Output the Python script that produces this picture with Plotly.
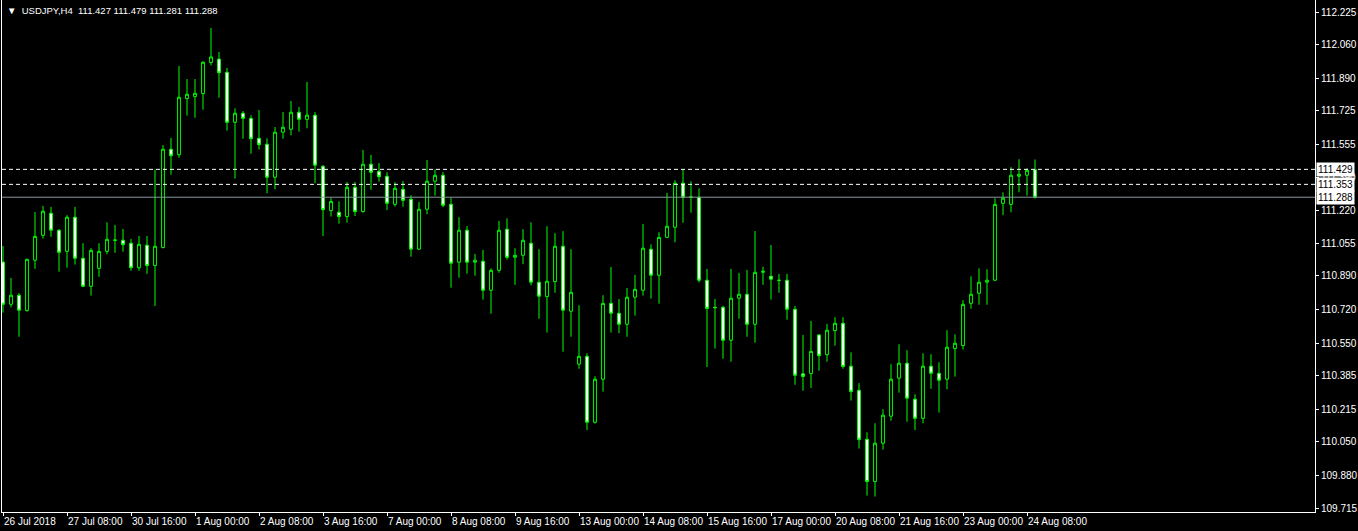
import plotly.graph_objects as go

# ---------------- data (USDJPY, H4) ----------------
opens = [110.960, 110.746, 110.792, 110.714, 110.969, 111.095, 111.207, 111.121, 111.014, 111.187,
         110.979, 110.837, 110.928, 111.014, 111.072, 111.070, 111.055, 110.931, 111.045, 110.942,
         111.033, 111.531, 111.503, 111.787, 111.797, 111.812, 111.969, 111.987, 111.920, 111.667,
         111.713, 111.687, 111.586, 111.556, 111.389, 111.617, 111.632, 111.718, 111.682, 111.703,
         111.445, 111.220, 111.212, 111.190, 111.338, 111.215, 111.455, 111.419, 111.394, 111.252,
         111.328, 111.278, 111.025, 111.227, 111.369, 111.399, 111.252, 110.959, 111.121, 110.959,
         110.964, 110.817, 110.918, 111.126, 110.984, 110.994, 111.055, 110.858, 110.785, 110.861,
         111.040, 110.711, 110.443, 110.483, 110.149, 110.367, 110.751, 110.701, 110.645, 110.782,
         110.817, 111.025, 110.893, 111.085, 111.136, 111.359, 111.288, 111.288, 110.868, 110.731,
         110.731, 110.564, 110.777, 110.797, 110.645, 110.908, 110.888, 110.868, 110.868, 110.721,
         110.394, 110.395, 110.591, 110.491, 110.613, 110.650, 110.433, 110.311, 110.063, 109.849,
         110.043, 110.180, 110.372, 110.448, 110.266, 110.169, 110.433, 110.397, 110.367, 110.522,
         110.537, 110.751, 110.802, 110.858, 110.868, 111.257, 111.252, 111.394, 111.399, 111.427]
highs = [111.041, 110.879, 110.803, 110.976, 111.213, 111.244, 111.239, 111.126, 111.197, 111.239,
         111.055, 111.030, 111.055, 111.161, 111.148, 111.127, 111.077, 111.092, 111.092, 111.429,
         111.552, 111.588, 111.952, 111.886, 111.886, 111.976, 112.144, 112.023, 111.942, 111.738,
         111.724, 111.703, 111.729, 111.586, 111.643, 111.719, 111.775, 111.745, 111.871, 111.719,
         111.450, 111.286, 111.267, 111.365, 111.365, 111.527, 111.502, 111.461, 111.414, 111.364,
         111.370, 111.298, 111.264, 111.476, 111.429, 111.414, 111.286, 111.187, 111.142, 111.001,
         111.021, 110.928, 111.168, 111.181, 111.030, 111.126, 111.161, 111.025, 111.141, 111.106,
         111.116, 111.025, 110.741, 110.498, 110.382, 110.792, 110.935, 110.773, 110.829, 110.895,
         111.153, 111.050, 111.111, 111.309, 111.374, 111.429, 111.369, 111.333, 110.925, 110.773,
         110.738, 110.925, 110.905, 110.920, 111.117, 110.937, 111.046, 110.900, 110.900, 110.738,
         110.591, 110.662, 110.596, 110.647, 110.681, 110.681, 110.503, 110.347, 110.099, 110.144,
         110.215, 110.443, 110.544, 110.514, 110.291, 110.498, 110.493, 110.453, 110.615, 110.594,
         110.767, 110.888, 110.928, 110.923, 111.283, 111.313, 111.440, 111.480, 111.434, 111.479]
lows = [110.704, 110.731, 110.582, 110.709, 110.926, 111.078, 111.088, 110.911, 110.931, 110.947,
        110.833, 110.790, 110.886, 110.999, 111.007, 111.012, 110.916, 110.916, 110.900, 110.738,
        111.030, 111.402, 111.488, 111.701, 111.690, 111.731, 111.955, 111.792, 111.625, 111.382,
        111.584, 111.508, 111.529, 111.308, 111.328, 111.584, 111.601, 111.620, 111.637, 111.359,
        111.092, 111.190, 111.154, 111.159, 111.193, 111.210, 111.326, 111.367, 111.223, 111.240,
        111.240, 110.987, 111.022, 111.202, 111.296, 111.237, 110.830, 110.881, 110.901, 110.891,
        110.770, 110.699, 110.906, 110.972, 110.845, 110.949, 110.842, 110.673, 110.603, 110.805,
        110.506, 110.582, 110.420, 110.110, 110.142, 110.304, 110.603, 110.600, 110.582, 110.689,
        110.790, 110.775, 110.749, 111.083, 111.060, 111.159, 111.210, 110.856, 110.429, 110.522,
        110.471, 110.456, 110.673, 110.582, 110.552, 110.845, 110.770, 110.805, 110.668, 110.339,
        110.309, 110.323, 110.410, 110.456, 110.537, 110.420, 110.259, 110.016, 109.778, 109.773,
        110.011, 110.157, 110.299, 110.152, 110.110, 110.144, 110.319, 110.198, 110.316, 110.380,
        110.517, 110.724, 110.744, 110.744, 110.863, 111.197, 111.212, 111.313, 111.296, 111.281]
closes = [110.746, 110.792, 110.716, 110.974, 111.090, 111.217, 111.121, 111.009, 111.187, 110.979,
          110.837, 111.019, 111.014, 111.075, 111.070, 111.048, 110.931, 111.050, 110.942, 111.040,
          111.531, 111.498, 111.794, 111.809, 111.814, 111.971, 111.998, 111.918, 111.667, 111.713,
          111.687, 111.584, 111.554, 111.389, 111.617, 111.642, 111.718, 111.682, 111.703, 111.450,
          111.225, 111.267, 111.190, 111.338, 111.215, 111.455, 111.414, 111.392, 111.257, 111.333,
          111.272, 111.025, 111.227, 111.369, 111.399, 111.247, 110.954, 111.121, 110.959, 110.969,
          110.817, 110.918, 111.121, 110.984, 110.994, 111.070, 110.858, 110.787, 110.863, 111.040,
          110.716, 110.807, 110.483, 110.149, 110.367, 110.751, 110.701, 110.645, 110.782, 110.822,
          111.030, 110.893, 111.085, 111.141, 111.359, 111.288, 111.289, 110.868, 110.725, 110.729,
          110.564, 110.777, 110.797, 110.645, 110.908, 110.913, 110.873, 110.867, 110.721, 110.387,
          110.381, 110.508, 110.486, 110.615, 110.650, 110.431, 110.304, 110.061, 109.849, 110.043,
          110.185, 110.367, 110.448, 110.271, 110.169, 110.433, 110.397, 110.362, 110.529, 110.549,
          110.746, 110.797, 110.858, 110.868, 111.252, 111.283, 111.399, 111.404, 111.424, 111.288]

time_labels = ["26 Jul 2018", "27 Jul 08:00", "30 Jul 16:00", "1 Aug 00:00", "2 Aug 08:00",
               "3 Aug 16:00", "7 Aug 00:00", "8 Aug 08:00", "9 Aug 16:00", "13 Aug 00:00",
               "14 Aug 08:00", "15 Aug 16:00", "17 Aug 00:00", "20 Aug 08:00", "21 Aug 16:00",
               "23 Aug 00:00", "24 Aug 08:00"]
bars_per_label = 8

price_ticks = [112.225, 112.060, 111.890, 111.725, 111.555, 111.390, 111.220, 111.055,
               110.890, 110.720, 110.550, 110.385, 110.215, 110.050, 109.880, 109.715]

dashed_levels = [111.429, 111.353]
bid_level = 111.288

symbol = "USDJPY,H4"

# ---------------- figure ----------------
bars = list(range(len(opens)))
GREEN = "#00FF00"
FONT = "Liberation Sans, Arial, sans-serif"

fig = go.Figure()
fig.add_trace(go.Candlestick(
    x=bars, open=opens, high=highs, low=lows, close=closes,
    increasing=dict(line=dict(color=GREEN, width=1), fillcolor="#000000"),
    decreasing=dict(line=dict(color=GREEN, width=1), fillcolor="#FFFFFF"),
    whiskerwidth=0, hoverinfo="skip", showlegend=False,
))

shapes = []
for lv in dashed_levels:
    shapes.append(dict(type="line", xref="paper", x0=0, x1=1, yref="y", y0=lv, y1=lv,
                       line=dict(color="#FFFFFF", width=1, dash="4px,3px"), layer="above"))
shapes.append(dict(type="line", xref="paper", x0=0, x1=1, yref="y", y0=bid_level, y1=bid_level,
                   line=dict(color="#8C96A0", width=1), layer="above"))

annotations = [dict(
    text="▼  " + symbol + "  " + " ".join(f"{v:.3f}" for v in
                                          (opens[-1], highs[-1], lows[-1], closes[-1])),
    xref="paper", yref="paper", x=0, y=1, xanchor="left", yanchor="top",
    xshift=3, yshift=-3, showarrow=False,
    font=dict(color="#FFFFFF", size=9.5, family=FONT))]
for lv in dashed_levels + [bid_level]:
    annotations.append(dict(
        text=f"{lv:.3f}", xref="paper", yref="y", x=1, y=lv, xanchor="left", yanchor="middle",
        xshift=1, showarrow=False, bgcolor="#FFFFFF", borderpad=1,
        font=dict(color="#000000", size=10, family=FONT)))

fig.update_layout(
    width=1358, height=531,
    margin=dict(l=2, r=43, t=0, b=19, autoexpand=False),
    paper_bgcolor="#000000", plot_bgcolor="#000000",
    boxgap=0.5,
    shapes=shapes, annotations=annotations,
    xaxis=dict(
        range=[-0.125, 164], rangeslider=dict(visible=False), automargin=False,
        tickvals=[i * bars_per_label for i in range(len(time_labels))], ticktext=time_labels,
        ticklabelposition="outside right", tickangle=0,
        ticks="outside", ticklen=3, tickcolor="#FFFFFF",
        tickfont=dict(color="#FFFFFF", size=10, family=FONT),
        showgrid=False, zeroline=False, showline=True, linecolor="#FFFFFF", linewidth=1,
        mirror=True,
    ),
    yaxis=dict(
        side="right", range=[109.695, 112.286], automargin=False,
        tickvals=price_ticks, ticktext=[f"{v:.3f}" for v in price_ticks],
        ticks="outside", ticklen=3, tickcolor="#FFFFFF",
        tickfont=dict(color="#FFFFFF", size=10, family=FONT),
        showgrid=False, zeroline=False, showline=True, linecolor="#FFFFFF", linewidth=1,
        mirror=True,
    ),
)

fig.write_html(
    "out.html",
    config={"displayModeBar": False},
    post_script="document.body.style.margin='0';document.body.style.background='#000';"
                "document.body.style.overflow='hidden';",
)
